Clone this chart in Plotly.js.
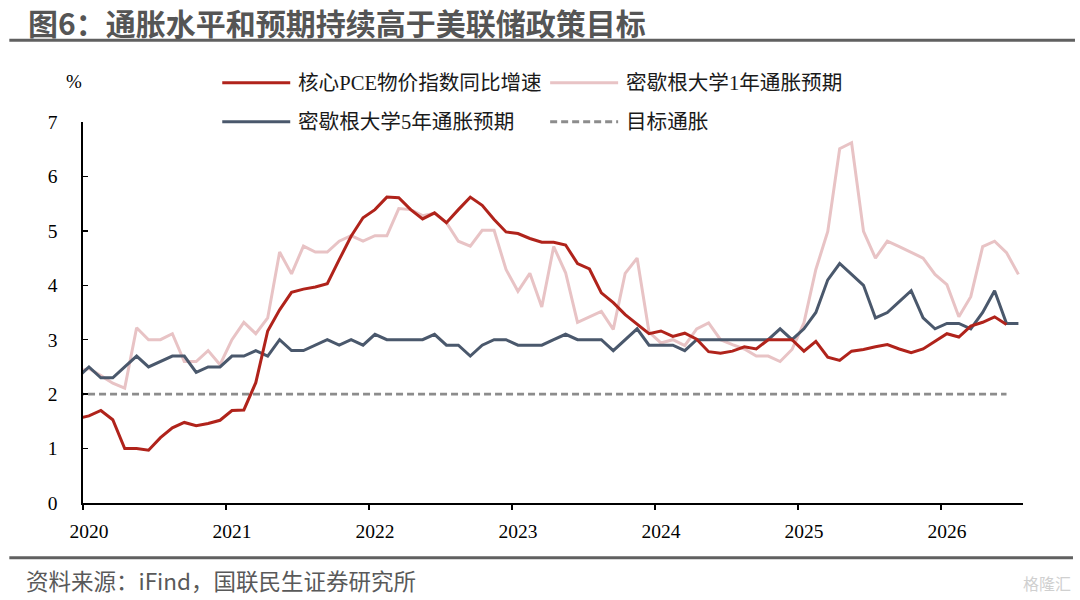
<!DOCTYPE html>
<html>
<head>
<meta charset="utf-8">
<script src="https://cdn.plot.ly/plotly-3.0.1.min.js"></script>
<style>
html,body{margin:0;padding:0;background:#fff;}
#chart{width:1080px;height:600px;}
</style>
</head>
<body>
<div id="chart"></div>
<script>
// ---- data (monthly, from 2019-12 to 2026-07) ----
const startYear = 2019, startMonth = 12, nMonths = 80;
const months = [];
for (let i = 0; i < nMonths; i++) {
  const m = (startMonth - 1 + i) % 12 + 1;
  const y = startYear + Math.floor((startMonth - 1 + i) / 12);
  months.push(y + '-' + String(m).padStart(2, '0'));
}

const chartTitle = '图6：通胀水平和预期持续高于美联储政策目标';
const sourceNote = '资料来源：iFind，国联民生证券研究所';
const seriesNames = ['核心PCE物价指数同比增速', '密歇根大学1年通胀预期', '密歇根大学5年通胀预期', '目标通胀'];

const corePCE = [
  1.55, 1.60, 1.70, 1.53, 1.00, 1.00, 0.97, 1.20, 1.38, 1.48, 1.42, 1.46, 1.52, 1.70, 1.71, 2.21,
  3.16, 3.55, 3.87, 3.93, 3.97, 4.03, 4.47, 4.90, 5.24, 5.39, 5.62, 5.61, 5.39, 5.22, 5.33, 5.15,
  5.39, 5.62, 5.47, 5.21, 4.98, 4.95, 4.86, 4.79, 4.79, 4.74, 4.40, 4.30, 3.86, 3.68, 3.46, 3.28,
  3.11, 3.16, 3.06, 3.12, 3.01, 2.78, 2.75, 2.79, 2.87, 2.83, 3.00, 3.00, 3.00, 2.79, 2.97, 2.68,
  2.62, 2.79, 2.82, 2.87, 2.91, 2.83, 2.76, 2.83, 2.97, 3.11, 3.05, 3.25, 3.32, 3.42, 3.28
];

const umich1y = [
  2.42, 2.47, 2.34, 2.20, 2.11, 3.22, 3.00, 3.00, 3.11, 2.60, 2.60, 2.80, 2.54, 3.00, 3.32, 3.11,
  3.40, 4.61, 4.21, 4.72, 4.61, 4.61, 4.81, 4.91, 4.81, 4.91, 4.91, 5.41, 5.39, 5.28, 5.32, 5.15,
  4.81, 4.72, 5.01, 5.01, 4.29, 3.89, 4.22, 3.60, 4.71, 4.23, 3.32, 3.42, 3.52, 3.19, 4.22, 4.50,
  3.14, 2.94, 3.00, 2.89, 3.20, 3.31, 3.00, 2.91, 2.83, 2.70, 2.70, 2.60, 2.82, 3.31, 4.29, 4.99,
  6.51, 6.62, 4.99, 4.50, 4.81, 4.71, 4.61, 4.50, 4.20, 4.01, 3.42, 3.79, 4.71, 4.81, 4.60, 4.20
];

const umich5y = [
  2.3, 2.5, 2.3, 2.3, 2.5, 2.7, 2.5, 2.6, 2.7, 2.7, 2.4, 2.5, 2.5, 2.7, 2.7, 2.8,
  2.7, 3.0, 2.8, 2.8, 2.9, 3.0, 2.9, 3.0, 2.9, 3.1, 3.0, 3.0, 3.0, 3.0, 3.1, 2.9,
  2.9, 2.7, 2.9, 3.0, 3.0, 2.9, 2.9, 2.9, 3.0, 3.1, 3.0, 3.0, 3.0, 2.8, 3.0, 3.2,
  2.9, 2.9, 2.9, 2.8, 3.0, 3.0, 3.0, 3.0, 3.0, 3.0, 3.0, 3.2, 3.0, 3.2, 3.5, 4.1,
  4.4, 4.2, 4.0, 3.4, 3.5, 3.7, 3.9, 3.4, 3.2, 3.3, 3.3, 3.2, 3.5, 3.9, 3.3, 3.3
];

const targetValue = 2;
const targetLength = 79;
const target = new Array(targetLength).fill(targetValue);

const yearLabels = ['2020', '2021', '2022', '2023', '2024', '2025', '2026'];
const yTickVals = [0, 1, 2, 3, 4, 5, 6, 7];

// ---- x positions from month labels (months since Jan 2020, mid-month) ----
const xs = months.map(s => {
  const [y, m] = s.split('-').map(Number);
  return (y - 2020) * 12 + (m - 1) + 0.5;
});
const yearTickVals = yearLabels.map(y => (Number(y) - 2020) * 12);

// ---- styles ----
const C_RED = '#B0231B', C_PINK = '#E8C3C5', C_BLUE = '#4A586C', C_GRAY = '#8C8C8C';
const serif = '"Liberation Serif", "Times New Roman", "Noto Sans CJK SC", serif';
const cjk = '"Noto Sans CJK SC", "Noto Sans", sans-serif';

// plot area in pixels
const L = 82.7, R = 1023, T = 122.3, B = 503.3;
const W = 1080, H = 600;
const px = p => (p - L) / (R - L);
const py = p => (B - p) / (B - T);

const traces = [
  {x: xs.slice(0, target.length), y: target, name: seriesNames[3], mode: 'lines',
   line: {color: C_GRAY, width: 2.6, dash: '7px,4px'}, showlegend: false},
  {x: xs.slice(0, umich1y.length), y: umich1y, name: seriesNames[1], mode: 'lines',
   line: {color: C_PINK, width: 3}, showlegend: false},
  {x: xs.slice(0, umich5y.length), y: umich5y, name: seriesNames[2], mode: 'lines',
   line: {color: C_BLUE, width: 3}, showlegend: false},
  {x: xs.slice(0, corePCE.length), y: corePCE, name: seriesNames[0], mode: 'lines',
   line: {color: C_RED, width: 3}, showlegend: false}
];

// manual legend
const legendItems = [
  {name: seriesNames[0], color: C_RED, dash: 'solid', x0: 222, y: 83},
  {name: seriesNames[1], color: C_PINK, dash: 'solid', x0: 550, y: 83},
  {name: seriesNames[2], color: C_BLUE, dash: 'solid', x0: 222, y: 122},
  {name: seriesNames[3], color: C_GRAY, dash: '7px,4px', x0: 550, y: 122}
];

const shapes = [
  // title underline
  {type: 'line', xref: 'paper', yref: 'paper', x0: px(9), x1: px(1075), y0: py(40.5), y1: py(40.5),
   line: {color: '#606060', width: 3}},
  // bottom rule
  {type: 'line', xref: 'paper', yref: 'paper', x0: px(9), x1: px(1073), y0: py(558), y1: py(558),
   line: {color: '#606060', width: 3}}
];
const annotations = [
  {xref: 'paper', yref: 'paper', x: px(26), y: py(22.5), text: '<b>' + chartTitle + '</b>', showarrow: false,
   xanchor: 'left', yanchor: 'middle', font: {family: cjk, size: 30, color: '#555555'}},
  {xref: 'paper', yref: 'paper', x: px(74), y: py(82), text: '%', showarrow: false,
   xanchor: 'center', yanchor: 'middle', font: {family: serif, size: 19, color: '#000'}},
  {xref: 'paper', yref: 'paper', x: px(24), y: py(580), text: sourceNote, showarrow: false,
   xanchor: 'left', yanchor: 'middle', font: {family: cjk, size: 22.5, color: '#595959'}},
  {xref: 'paper', yref: 'paper', x: px(1073), y: py(583), text: '格隆汇', showarrow: false,
   xanchor: 'right', yanchor: 'middle', font: {family: cjk, size: 16, color: '#D0D0D0'}}
];
legendItems.forEach(it => {
  shapes.push({type: 'line', xref: 'paper', yref: 'paper', x0: px(it.x0), x1: px(it.x0 + 68),
    y0: py(it.y), y1: py(it.y), line: {color: it.color, width: 3, dash: it.dash}});
  annotations.push({xref: 'paper', yref: 'paper', x: px(it.x0 + 74), y: py(it.y), text: it.name,
    showarrow: false, xanchor: 'left', yanchor: 'middle',
    font: {family: serif, size: 20.6, color: '#1a1a1a'}});
});

const layout = {
  width: W, height: H,
  margin: {l: L, r: W - R, t: T, b: H - B, pad: 0},
  paper_bgcolor: '#fff', plot_bgcolor: '#fff',
  showlegend: false,
  xaxis: {
    range: [0, (R - L) / 11.92],
    tickmode: 'array', tickvals: yearTickVals, ticktext: yearLabels,
    ticks: 'outside', ticklen: 5, tickwidth: 1.5, tickcolor: '#000',
    showline: true, linecolor: '#000', linewidth: 1.6,
    showgrid: false, zeroline: false,
    ticklabelshift: 6, ticklabelstandoff: 5,
    tickfont: {family: serif, size: 19.5, color: '#000'}
  },
  yaxis: {
    range: [0, 7],
    tickmode: 'array', tickvals: yTickVals,
    ticks: 'inside', ticklen: 5, tickwidth: 1.5, tickcolor: '#000',
    showline: true, linecolor: '#000', linewidth: 1.6,
    showgrid: false, zeroline: false,
    ticklabelstandoff: 20,
    tickfont: {family: serif, size: 19.5, color: '#000'}
  },
  shapes: shapes,
  annotations: annotations
};

Plotly.newPlot('chart', traces, layout, {staticPlot: true, displayModeBar: false});
</script>
</body>
</html>
